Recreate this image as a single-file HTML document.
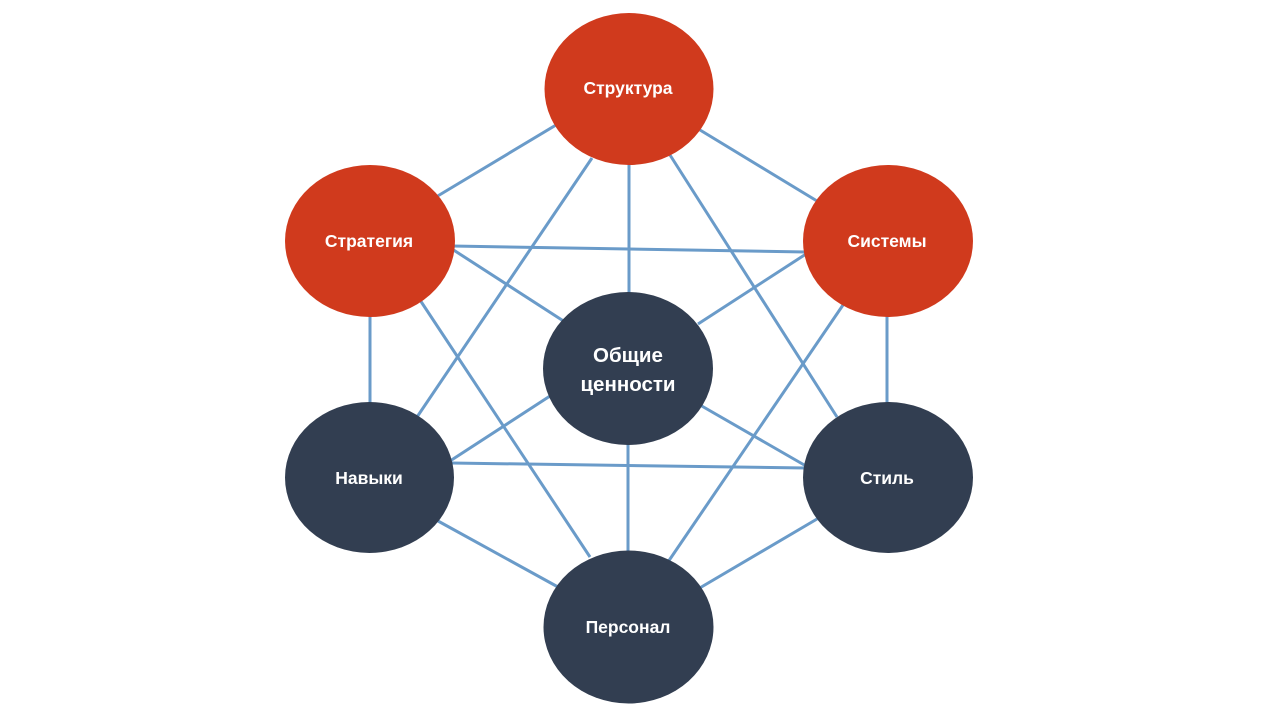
<!DOCTYPE html>
<html>
<head>
<meta charset="utf-8">
<style>
  html, body { margin: 0; padding: 0; background: #ffffff; }
  svg { display: block; }
  text { font-family: "Liberation Sans", "DejaVu Sans", sans-serif; font-weight: bold; fill: #ffffff; }
</style>
</head>
<body>
<svg width="1280" height="720" viewBox="0 0 1280 720" xmlns="http://www.w3.org/2000/svg">
  <rect width="1280" height="720" fill="#ffffff"/>
  <g stroke="#6A9BC9" stroke-width="3" fill="none" stroke-linecap="butt">
    <!-- Структура -->
    <line x1="556" y1="125" x2="436" y2="197"/>
    <line x1="700" y1="130" x2="817" y2="201"/>
    <line x1="629" y1="160" x2="629" y2="295"/>
    <line x1="592" y1="158" x2="417" y2="417"/>
    <line x1="670" y1="155" x2="837" y2="417"/>
    <!-- Стратегия -->
    <line x1="452" y1="246" x2="806" y2="252"/>
    <line x1="452" y1="249" x2="565" y2="322"/>
    <line x1="370" y1="315" x2="370" y2="405"/>
    <line x1="420" y1="300" x2="590" y2="557"/>
    <!-- Системы -->
    <line x1="806" y1="254" x2="698" y2="324"/>
    <line x1="887" y1="315" x2="887" y2="405"/>
    <line x1="843" y1="305" x2="668" y2="562"/>
    <!-- Навыки -->
    <line x1="450" y1="461" x2="550" y2="396"/>
    <line x1="451" y1="463" x2="806" y2="468"/>
    <line x1="438" y1="521" x2="558" y2="587"/>
    <!-- Стиль -->
    <line x1="700" y1="405" x2="806" y2="466"/>
    <line x1="817" y1="519" x2="698" y2="589"/>
    <!-- Общие - Персонал -->
    <line x1="628" y1="442" x2="628" y2="553"/>
  </g>
  <g>
    <ellipse cx="629" cy="89" rx="84.5" ry="76" fill="#D03A1D"/>
    <ellipse cx="370" cy="241" rx="85" ry="76" fill="#D03A1D"/>
    <ellipse cx="888" cy="241" rx="85" ry="76" fill="#D03A1D"/>
    <ellipse cx="628" cy="368.5" rx="85" ry="76.5" fill="#323E51"/>
    <ellipse cx="369.5" cy="477.5" rx="84.5" ry="75.5" fill="#323E51"/>
    <ellipse cx="888" cy="477.5" rx="85" ry="75.5" fill="#323E51"/>
    <ellipse cx="628.5" cy="627" rx="85" ry="76.5" fill="#323E51"/>
  </g>
  <g text-anchor="middle" font-size="17.5">
    <text x="628" y="94">Структура</text>
    <text x="369" y="247">Стратегия</text>
    <text x="887" y="247">Системы</text>
    <text x="369" y="484">Навыки</text>
    <text x="887" y="484">Стиль</text>
    <text x="628" y="633">Персонал</text>
    <text x="628" y="362" font-size="20.5">Общие</text>
    <text x="628" y="391" font-size="20.5">ценности</text>
  </g>
</svg>
</body>
</html>
